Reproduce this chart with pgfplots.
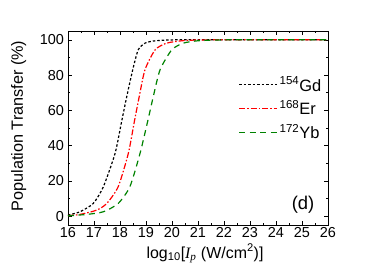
\documentclass[border=0pt]{standalone}
\usepackage{fontspec}
\setmainfont{Liberation Sans}
\newfontfamily\seriffont{Liberation Serif}
\usepackage{pgfplots}
\pgfplotsset{compat=1.18}
\definecolor{myred}{RGB}{255,0,0}
\definecolor{mygreen}{RGB}{0,130,0}
\begin{document}
\begin{tikzpicture}
\useasboundingbox (-68bp,-45bp) rectangle (314bp,225bp);
\begin{axis}[at={(0,0)}, anchor=south west, scale only axis,
  width=260bp, height=194bp,
  xmin=16, xmax=26, ymin=-5, ymax=105,
  xtick={16,17,...,26}, ytick={0,20,...,100},
  minor x tick num=1, minor y tick num=1,
  tick align=inside, major tick length=4bp, minor tick length=2.5bp,
  axis line style={line width=0.8pt},
  every tick/.style={line width=0.6pt, black},
  /pgf/number format/assume math mode=true,
  ticklabel style={font=\fontsize{14.5}{16}\selectfont},
  xticklabel style={yshift=1bp},
  yticklabel style={xshift=-0.5bp},
  xlabel={log\textsubscript{10}[{\seriffont\itshape I}\textsubscript{\seriffont\itshape p} (W/cm\textsuperscript{2})]},
  ylabel={Population Transfer (\%)},
  xlabel style={font=\fontsize{16}{18}\selectfont, at={(axis description cs:0.527,-0.147)}, anchor=center},
  ylabel style={font=\fontsize{16.3}{18}\selectfont, at={(axis description cs:-0.19,0.51)}, anchor=center},
  legend style={draw=none, fill=none, at={(0.655,0.775)}, anchor=north west,
    font=\fontsize{16.5}{18}\selectfont, row sep=4bp, inner sep=0pt,
    /tikz/every even column/.append style={column sep=3bp}},
  legend cell align=left,
  legend image code/.code={\draw[#1] (0bp,0bp) -- (38bp,0bp);},
]
\addplot[black, line width=1.2bp, dash pattern=on 2.5bp off 2bp, smooth, tension=0.4] coordinates {
(16.0,0.5) (16.08,0.9) (16.46,2.5) (16.97,7.2) (17.36,16.7) (17.81,35.6) (18.06,53.5)
(18.26,67.8) (18.49,83) (18.70,94.3) (18.96,98.1) (19.28,99.3) (19.7,99.8) (20.2,100) (21,100) (26,100)};
\addlegendentry{\textsuperscript{154}Gd}
\addplot[myred, line width=1.2bp, dash pattern=on 6bp off 2bp on 1.5bp off 2bp, smooth, tension=0.4] coordinates {
(16.0,0.3) (16.46,1.0) (17.1,3.4) (17.49,7.2) (17.93,16.7) (18.32,35.6) (18.55,53.5)
(18.74,67.8) (18.96,83) (19.35,94.3) (19.79,98.1) (20.4,99.5) (21.0,99.9) (22,100) (26,100)};
\addlegendentry{\textsuperscript{168}Er}
\addplot[mygreen, line width=1.2bp, dash pattern=on 6bp off 4.5bp, smooth, tension=0.4] coordinates {
(16.0,0.2) (16.72,1.0) (17.36,2.5) (17.93,7.2) (18.38,16.7) (18.77,35.6) (19.06,53.5)
(19.28,67.8) (19.54,83) (19.99,94.3) (20.43,98.1) (20.95,99.4) (21.5,99.8) (22.2,100) (23,100) (26,100)};
\addlegendentry{\textsuperscript{172}Yb}
\node[font=\fontsize{18.5}{20}\selectfont] at (axis cs:25.04,6.3) {(d)};
\end{axis}
\end{tikzpicture}
\end{document}
